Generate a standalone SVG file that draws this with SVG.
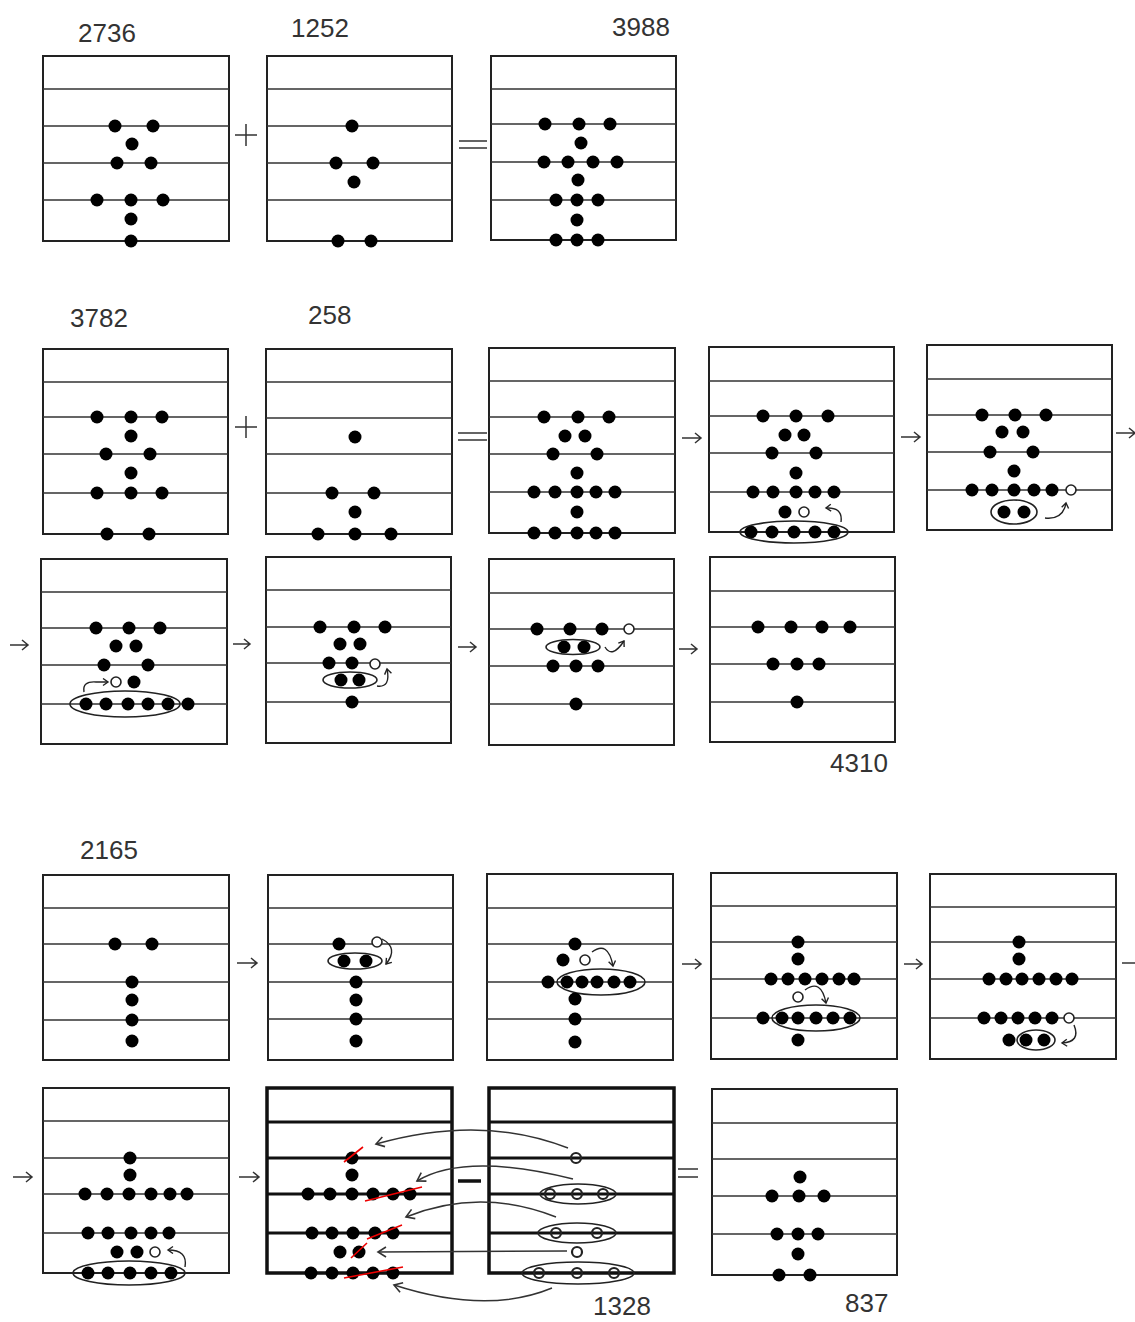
<svg xmlns="http://www.w3.org/2000/svg" width="1135" height="1322" viewBox="0 0 1135 1322">
<style>
.bx{fill:none;stroke:#222;stroke-width:2}
.ln{stroke:#333;stroke-width:1.6}
.tb .bx{stroke:#111;stroke-width:3.5}
.tb .ln{stroke:#111;stroke-width:3}
.d{fill:#000}
.o{fill:#fff;stroke:#222;stroke-width:1.6}
.o2{fill:none;stroke:#222;stroke-width:2.2}
.el{fill:none;stroke:#222;stroke-width:1.6}
.hk{fill:none;stroke:#222;stroke-width:1.4;marker-end:url(#mh)}
.sym{fill:none;stroke:#333;stroke-width:1.5}
.cn{fill:none;stroke:#333;stroke-width:1.5;marker-end:url(#mc)}
.rs{stroke:#e00;stroke-width:1.6}
.num{font-family:"Liberation Sans",Arial,sans-serif;font-size:26px;fill:#333}
</style>
<defs>
<marker id="mh" markerUnits="userSpaceOnUse" markerWidth="10" markerHeight="10" refX="6" refY="4" orient="auto"><path d="M1,0.5 L6,4 L1,7.5" fill="none" stroke="#222" stroke-width="1.4"/></marker>
<marker id="mc" markerUnits="userSpaceOnUse" markerWidth="14" markerHeight="14" refX="9" refY="6" orient="auto"><path d="M1,1 L9,6 L1,11" fill="none" stroke="#333" stroke-width="1.6"/></marker>
</defs>
<rect width="1135" height="1322" fill="#fff"/>

<g id="labels">
<text class="num" x="78" y="42">2736</text>
<text class="num" x="291" y="37">1252</text>
<text class="num" x="612" y="36">3988</text>
<text class="num" x="70" y="327">3782</text>
<text class="num" x="308" y="324">258</text>
<text class="num" x="830" y="772">4310</text>
<text class="num" x="80" y="859">2165</text>
<text class="num" x="593" y="1315">1328</text>
<text class="num" x="845" y="1312">837</text>
</g>

<g id="operators">
<path class="sym" d="M235,135 H257 M246,124 V146"/>
<path class="sym" d="M459,141 H487 M459,148 H487"/>
<path class="sym" d="M235,427 H257 M246,416 V438"/>
<path class="sym" d="M458,433 H487 M458,440 H487"/>
<path d="M458,1181 H481" stroke="#111" stroke-width="3.5"/>
<path class="sym" d="M678,1169 H698 M678,1177 H698"/>
</g>

<g id="r1b1">
<rect class="bx" x="43" y="56" width="186" height="185"/>
<path class="ln" d="M43,89H229M43,126H229M43,163H229M43,200H229"/>
<circle class="d" cx="115" cy="126" r="6.5"/><circle class="d" cx="153" cy="126" r="6.5"/>
<circle class="d" cx="132" cy="144" r="6.5"/>
<circle class="d" cx="117" cy="163" r="6.5"/><circle class="d" cx="151" cy="163" r="6.5"/>
<circle class="d" cx="97" cy="200" r="6.5"/><circle class="d" cx="131" cy="200" r="6.5"/><circle class="d" cx="163" cy="200" r="6.5"/>
<circle class="d" cx="131" cy="219" r="6.5"/><circle class="d" cx="131" cy="241" r="6.5"/>
</g>
<g id="r1b2">
<rect class="bx" x="267" y="56" width="185" height="185"/>
<path class="ln" d="M267,89H452M267,126H452M267,163H452M267,200H452"/>
<circle class="d" cx="352" cy="126" r="6.5"/>
<circle class="d" cx="336" cy="163" r="6.5"/><circle class="d" cx="373" cy="163" r="6.5"/>
<circle class="d" cx="354" cy="182" r="6.5"/>
<circle class="d" cx="338" cy="241" r="6.5"/><circle class="d" cx="371" cy="241" r="6.5"/>
</g>
<g id="r1b3">
<rect class="bx" x="491" y="56" width="185" height="184"/>
<path class="ln" d="M491,89H676M491,124H676M491,162H676M491,200H676"/>
<circle class="d" cx="545" cy="124" r="6.5"/><circle class="d" cx="579" cy="124" r="6.5"/><circle class="d" cx="610" cy="124" r="6.5"/>
<circle class="d" cx="581" cy="143" r="6.5"/>
<circle class="d" cx="544" cy="162" r="6.5"/><circle class="d" cx="568" cy="162" r="6.5"/><circle class="d" cx="593" cy="162" r="6.5"/><circle class="d" cx="617" cy="162" r="6.5"/>
<circle class="d" cx="578" cy="180" r="6.5"/>
<circle class="d" cx="556" cy="200" r="6.5"/><circle class="d" cx="577" cy="200" r="6.5"/><circle class="d" cx="598" cy="200" r="6.5"/>
<circle class="d" cx="577" cy="220" r="6.5"/>
<circle class="d" cx="556" cy="240" r="6.5"/><circle class="d" cx="577" cy="240" r="6.5"/><circle class="d" cx="598" cy="240" r="6.5"/>
</g>

<g id="r2b1">
<rect class="bx" x="43" y="349" width="185" height="185"/>
<path class="ln" d="M43,382H228M43,417H228M43,454H228M43,493H228"/>
<circle class="d" cx="97" cy="417" r="6.5"/><circle class="d" cx="131" cy="417" r="6.5"/><circle class="d" cx="162" cy="417" r="6.5"/>
<circle class="d" cx="131" cy="436" r="6.5"/>
<circle class="d" cx="106" cy="454" r="6.5"/><circle class="d" cx="150" cy="454" r="6.5"/>
<circle class="d" cx="131" cy="473" r="6.5"/>
<circle class="d" cx="97" cy="493" r="6.5"/><circle class="d" cx="131" cy="493" r="6.5"/><circle class="d" cx="162" cy="493" r="6.5"/>
<circle class="d" cx="107" cy="534" r="6.5"/><circle class="d" cx="149" cy="534" r="6.5"/>
</g>
<g id="r2b2">
<rect class="bx" x="266" y="349" width="186" height="185"/>
<path class="ln" d="M266,382H452M266,418H452M266,454H452M266,493H452"/>
<circle class="d" cx="355" cy="437" r="6.5"/>
<circle class="d" cx="332" cy="493" r="6.5"/><circle class="d" cx="374" cy="493" r="6.5"/>
<circle class="d" cx="355" cy="512" r="6.5"/>
<circle class="d" cx="318" cy="534" r="6.5"/><circle class="d" cx="355" cy="534" r="6.5"/><circle class="d" cx="391" cy="534" r="6.5"/>
</g>
<g id="r2b3">
<rect class="bx" x="489" y="348" width="186" height="185"/>
<path class="ln" d="M489,381H675M489,417H675M489,454H675M489,492H675"/>
<circle class="d" cx="544" cy="417" r="6.5"/><circle class="d" cx="578" cy="417" r="6.5"/><circle class="d" cx="609" cy="417" r="6.5"/>
<circle class="d" cx="565" cy="436" r="6.5"/><circle class="d" cx="585" cy="436" r="6.5"/>
<circle class="d" cx="553" cy="454" r="6.5"/><circle class="d" cx="597" cy="454" r="6.5"/>
<circle class="d" cx="577" cy="473" r="6.5"/>
<circle class="d" cx="534" cy="492" r="6.5"/><circle class="d" cx="555" cy="492" r="6.5"/><circle class="d" cx="577" cy="492" r="6.5"/><circle class="d" cx="596" cy="492" r="6.5"/><circle class="d" cx="615" cy="492" r="6.5"/>
<circle class="d" cx="577" cy="512" r="6.5"/>
<circle class="d" cx="534" cy="533" r="6.5"/><circle class="d" cx="555" cy="533" r="6.5"/><circle class="d" cx="577" cy="533" r="6.5"/><circle class="d" cx="596" cy="533" r="6.5"/><circle class="d" cx="615" cy="533" r="6.5"/>
</g>
<g id="r2b4">
<rect class="bx" x="709" y="347" width="185" height="185"/>
<path class="ln" d="M709,381H894M709,416H894M709,453H894M709,492H894"/>
<circle class="d" cx="763" cy="416" r="6.5"/><circle class="d" cx="796" cy="416" r="6.5"/><circle class="d" cx="828" cy="416" r="6.5"/>
<circle class="d" cx="785" cy="435" r="6.5"/><circle class="d" cx="804" cy="435" r="6.5"/>
<circle class="d" cx="772" cy="453" r="6.5"/><circle class="d" cx="816" cy="453" r="6.5"/>
<circle class="d" cx="796" cy="473" r="6.5"/>
<circle class="d" cx="753" cy="492" r="6.5"/><circle class="d" cx="773" cy="492" r="6.5"/><circle class="d" cx="796" cy="492" r="6.5"/><circle class="d" cx="815" cy="492" r="6.5"/><circle class="d" cx="834" cy="492" r="6.5"/>
<circle class="d" cx="785" cy="512" r="6.5"/><circle class="o" cx="804" cy="512" r="5"/>
<circle class="d" cx="751" cy="532" r="6.5"/><circle class="d" cx="772" cy="532" r="6.5"/><circle class="d" cx="794" cy="532" r="6.5"/><circle class="d" cx="815" cy="532" r="6.5"/><circle class="d" cx="834" cy="532" r="6.5"/>
<ellipse class="el" cx="794" cy="532" rx="54" ry="11"/>
<path class="hk" d="M841,522 Q843,507 826,508"/>
</g>
<g id="r2b5">
<rect class="bx" x="927" y="345" width="185" height="185"/>
<path class="ln" d="M927,379H1112M927,415H1112M927,452H1112M927,490H1112"/>
<circle class="d" cx="982" cy="415" r="6.5"/><circle class="d" cx="1015" cy="415" r="6.5"/><circle class="d" cx="1046" cy="415" r="6.5"/>
<circle class="d" cx="1002" cy="432" r="6.5"/><circle class="d" cx="1023" cy="432" r="6.5"/>
<circle class="d" cx="990" cy="452" r="6.5"/><circle class="d" cx="1033" cy="452" r="6.5"/>
<circle class="d" cx="1014" cy="471" r="6.5"/>
<circle class="d" cx="972" cy="490" r="6.5"/><circle class="d" cx="992" cy="490" r="6.5"/><circle class="d" cx="1014" cy="490" r="6.5"/><circle class="d" cx="1034" cy="490" r="6.5"/><circle class="d" cx="1052" cy="490" r="6.5"/>
<circle class="o" cx="1071" cy="490" r="5"/>
<circle class="d" cx="1004" cy="512" r="6.5"/><circle class="d" cx="1024" cy="512" r="6.5"/>
<ellipse class="el" cx="1014" cy="512" rx="23" ry="12"/>
<path class="hk" d="M1045,518 Q1063,520 1066,503"/>
</g>

<g id="r3b1">
<rect class="bx" x="41" y="559" width="186" height="185"/>
<path class="ln" d="M41,592H227M41,628H227M41,665H227M41,704H227"/>
<circle class="d" cx="96" cy="628" r="6.5"/><circle class="d" cx="129" cy="628" r="6.5"/><circle class="d" cx="160" cy="628" r="6.5"/>
<circle class="d" cx="116" cy="646" r="6.5"/><circle class="d" cx="136" cy="646" r="6.5"/>
<circle class="d" cx="104" cy="665" r="6.5"/><circle class="d" cx="148" cy="665" r="6.5"/>
<circle class="o" cx="116" cy="682" r="5"/><circle class="d" cx="134" cy="682" r="6.5"/>
<circle class="d" cx="86" cy="704" r="6.5"/><circle class="d" cx="106" cy="704" r="6.5"/><circle class="d" cx="128" cy="704" r="6.5"/><circle class="d" cx="148" cy="704" r="6.5"/><circle class="d" cx="168" cy="704" r="6.5"/><circle class="d" cx="188" cy="704" r="6.5"/>
<ellipse class="el" cx="125" cy="704" rx="55" ry="13"/>
<path class="hk" d="M84,692 Q82,681 96,682 L108,682"/>
</g>
<g id="r3b2">
<rect class="bx" x="266" y="557" width="185" height="186"/>
<path class="ln" d="M266,590H451M266,627H451M266,663H451M266,702H451"/>
<circle class="d" cx="320" cy="627" r="6.5"/><circle class="d" cx="354" cy="627" r="6.5"/><circle class="d" cx="385" cy="627" r="6.5"/>
<circle class="d" cx="340" cy="644" r="6.5"/><circle class="d" cx="360" cy="644" r="6.5"/>
<circle class="d" cx="329" cy="663" r="6.5"/><circle class="d" cx="352" cy="663" r="6.5"/><circle class="o" cx="375" cy="664" r="5"/>
<circle class="d" cx="341" cy="680" r="6.5"/><circle class="d" cx="359" cy="680" r="6.5"/>
<ellipse class="el" cx="350" cy="680" rx="27" ry="8"/>
<circle class="d" cx="352" cy="702" r="6.5"/>
<path class="hk" d="M377,686 Q391,688 387,669"/>
</g>
<g id="r3b3">
<rect class="bx" x="489" y="559" width="185" height="186"/>
<path class="ln" d="M489,593H674M489,629H674M489,666H674M489,704H674"/>
<circle class="d" cx="537" cy="629" r="6.5"/><circle class="d" cx="570" cy="629" r="6.5"/><circle class="d" cx="602" cy="629" r="6.5"/><circle class="o" cx="629" cy="629" r="5"/>
<circle class="d" cx="564" cy="647" r="6.5"/><circle class="d" cx="584" cy="647" r="6.5"/>
<ellipse class="el" cx="573" cy="647" rx="27" ry="7.5"/>
<circle class="d" cx="553" cy="666" r="6.5"/><circle class="d" cx="576" cy="666" r="6.5"/><circle class="d" cx="598" cy="666" r="6.5"/>
<circle class="d" cx="576" cy="704" r="6.5"/>
<path class="hk" d="M605,647 Q612,659 624,641"/>
</g>
<g id="r3b4">
<rect class="bx" x="710" y="557" width="185" height="185"/>
<path class="ln" d="M710,591H895M710,627H895M710,664H895M710,702H895"/>
<circle class="d" cx="758" cy="627" r="6.5"/><circle class="d" cx="791" cy="627" r="6.5"/><circle class="d" cx="822" cy="627" r="6.5"/><circle class="d" cx="850" cy="627" r="6.5"/>
<circle class="d" cx="773" cy="664" r="6.5"/><circle class="d" cx="797" cy="664" r="6.5"/><circle class="d" cx="819" cy="664" r="6.5"/>
<circle class="d" cx="797" cy="702" r="6.5"/>
</g>

<g id="r4b1">
<rect class="bx" x="43" y="875" width="186" height="185"/>
<path class="ln" d="M43,908H229M43,944H229M43,982H229M43,1020H229"/>
<circle class="d" cx="115" cy="944" r="6.5"/><circle class="d" cx="152" cy="944" r="6.5"/>
<circle class="d" cx="132" cy="982" r="6.5"/><circle class="d" cx="132" cy="1000" r="6.5"/><circle class="d" cx="132" cy="1020" r="6.5"/><circle class="d" cx="132" cy="1041" r="6.5"/>
</g>
<g id="r4b2">
<rect class="bx" x="268" y="875" width="185" height="185"/>
<path class="ln" d="M268,908H453M268,944H453M268,982H453M268,1019H453"/>
<circle class="d" cx="339" cy="944" r="6.5"/><circle class="o" cx="377" cy="942" r="5"/>
<circle class="d" cx="344" cy="961" r="6.5"/><circle class="d" cx="366" cy="961" r="6.5"/>
<ellipse class="el" cx="355" cy="961" rx="27" ry="8"/>
<circle class="d" cx="356" cy="982" r="6.5"/><circle class="d" cx="356" cy="1000" r="6.5"/><circle class="d" cx="356" cy="1019" r="6.5"/><circle class="d" cx="356" cy="1041" r="6.5"/>
<path class="hk" d="M382,939 Q399,948 386,964"/>
</g>
<g id="r4b3">
<rect class="bx" x="487" y="874" width="186" height="186"/>
<path class="ln" d="M487,908H673M487,944H673M487,982H673M487,1019H673"/>
<circle class="d" cx="575" cy="944" r="6.5"/>
<circle class="d" cx="563" cy="960" r="6.5"/><circle class="o" cx="585" cy="960" r="5"/>
<circle class="d" cx="548" cy="982" r="6.5"/><circle class="d" cx="567" cy="982" r="6.5"/><circle class="d" cx="582" cy="982" r="6.5"/><circle class="d" cx="597" cy="982" r="6.5"/><circle class="d" cx="614" cy="982" r="6.5"/><circle class="d" cx="630" cy="982" r="6.5"/>
<ellipse class="el" cx="601" cy="982" rx="44" ry="13"/>
<circle class="d" cx="575" cy="999" r="6.5"/><circle class="d" cx="575" cy="1019" r="6.5"/><circle class="d" cx="575" cy="1042" r="6.5"/>
<path class="hk" d="M592,952 Q608,940 613,966"/>
</g>
<g id="r4b4">
<rect class="bx" x="711" y="873" width="186" height="186"/>
<path class="ln" d="M711,906H897M711,942H897M711,979H897M711,1018H897"/>
<circle class="d" cx="798" cy="942" r="6.5"/><circle class="d" cx="798" cy="959" r="6.5"/>
<circle class="d" cx="771" cy="979" r="6.5"/><circle class="d" cx="788" cy="979" r="6.5"/><circle class="d" cx="805" cy="979" r="6.5"/><circle class="d" cx="822" cy="979" r="6.5"/><circle class="d" cx="839" cy="979" r="6.5"/><circle class="d" cx="854" cy="979" r="6.5"/>
<circle class="o" cx="798" cy="997" r="5"/>
<circle class="d" cx="763" cy="1018" r="6.5"/><circle class="d" cx="782" cy="1018" r="6.5"/><circle class="d" cx="798" cy="1018" r="6.5"/><circle class="d" cx="816" cy="1018" r="6.5"/><circle class="d" cx="833" cy="1018" r="6.5"/><circle class="d" cx="850" cy="1018" r="6.5"/>
<ellipse class="el" cx="816" cy="1018" rx="44" ry="13"/>
<circle class="d" cx="798" cy="1040" r="6.5"/>
<path class="hk" d="M805,990 Q821,978 826,1003"/>
</g>
<g id="r4b5">
<rect class="bx" x="930" y="874" width="186" height="185"/>
<path class="ln" d="M930,907H1116M930,942H1116M930,979H1116M930,1018H1116"/>
<circle class="d" cx="1019" cy="942" r="6.5"/><circle class="d" cx="1019" cy="959" r="6.5"/>
<circle class="d" cx="989" cy="979" r="6.5"/><circle class="d" cx="1006" cy="979" r="6.5"/><circle class="d" cx="1022" cy="979" r="6.5"/><circle class="d" cx="1039" cy="979" r="6.5"/><circle class="d" cx="1056" cy="979" r="6.5"/><circle class="d" cx="1072" cy="979" r="6.5"/>
<circle class="d" cx="984" cy="1018" r="6.5"/><circle class="d" cx="1001" cy="1018" r="6.5"/><circle class="d" cx="1018" cy="1018" r="6.5"/><circle class="d" cx="1035" cy="1018" r="6.5"/><circle class="d" cx="1052" cy="1018" r="6.5"/><circle class="o" cx="1069" cy="1018" r="5"/>
<circle class="d" cx="1009" cy="1040" r="6.5"/><circle class="d" cx="1026" cy="1040" r="6.5"/><circle class="d" cx="1044" cy="1040" r="6.5"/>
<ellipse class="el" cx="1036" cy="1040" rx="19" ry="10"/>
<path class="hk" d="M1074,1025 Q1081,1042 1062,1043"/>
</g>

<g id="r5b1">
<rect class="bx" x="43" y="1088" width="186" height="185"/>
<path class="ln" d="M43,1121H229M43,1158H229M43,1194H229M43,1233H229"/>
<circle class="d" cx="130" cy="1158" r="6.5"/><circle class="d" cx="130" cy="1175" r="6.5"/>
<circle class="d" cx="85" cy="1194" r="6.5"/><circle class="d" cx="107" cy="1194" r="6.5"/><circle class="d" cx="129" cy="1194" r="6.5"/><circle class="d" cx="151" cy="1194" r="6.5"/><circle class="d" cx="170" cy="1194" r="6.5"/><circle class="d" cx="187" cy="1194" r="6.5"/>
<circle class="d" cx="88" cy="1233" r="6.5"/><circle class="d" cx="108" cy="1233" r="6.5"/><circle class="d" cx="131" cy="1233" r="6.5"/><circle class="d" cx="151" cy="1233" r="6.5"/><circle class="d" cx="169" cy="1233" r="6.5"/>
<circle class="d" cx="117" cy="1252" r="6.5"/><circle class="d" cx="137" cy="1252" r="6.5"/><circle class="o" cx="155" cy="1252" r="5"/>
<circle class="d" cx="88" cy="1273" r="6.5"/><circle class="d" cx="108" cy="1273" r="6.5"/><circle class="d" cx="130" cy="1273" r="6.5"/><circle class="d" cx="151" cy="1273" r="6.5"/><circle class="d" cx="171" cy="1273" r="6.5"/>
<ellipse class="el" cx="129" cy="1273" rx="56" ry="12"/>
<path class="hk" d="M185,1267 Q188,1250 168,1250"/>
</g>
<g id="r5b2" class="tb">
<rect class="bx" x="267" y="1088" width="185" height="185"/>
<path class="ln" d="M267,1122H452M267,1158H452M267,1194H452M267,1233H452"/>
<circle class="d" cx="352" cy="1158" r="6.5"/><circle class="d" cx="352" cy="1175" r="6.5"/>
<circle class="d" cx="308" cy="1194" r="6.5"/><circle class="d" cx="330" cy="1194" r="6.5"/><circle class="d" cx="352" cy="1194" r="6.5"/><circle class="d" cx="373" cy="1194" r="6.5"/><circle class="d" cx="393" cy="1194" r="6.5"/><circle class="d" cx="410" cy="1194" r="6.5"/>
<circle class="d" cx="312" cy="1233" r="6.5"/><circle class="d" cx="332" cy="1233" r="6.5"/><circle class="d" cx="353" cy="1233" r="6.5"/><circle class="d" cx="375" cy="1233" r="6.5"/><circle class="d" cx="393" cy="1233" r="6.5"/>
<circle class="d" cx="340" cy="1252" r="6.5"/><circle class="d" cx="359" cy="1252" r="6.5"/>
<circle class="d" cx="311" cy="1273" r="6.5"/><circle class="d" cx="332" cy="1273" r="6.5"/><circle class="d" cx="353" cy="1273" r="6.5"/><circle class="d" cx="373" cy="1273" r="6.5"/><circle class="d" cx="393" cy="1273" r="6.5"/>
<path class="rs" d="M344,1162 L363,1147 M365,1201 L422,1187 M367,1239 L402,1225 M351,1258 L367,1243 M344,1278 L403,1267"/>
</g>
<g id="r5b3" class="tb">
<rect class="bx" x="489" y="1088" width="185" height="185"/>
<path class="ln" d="M489,1122H674M489,1158H674M489,1194H674M489,1233H674"/>
<circle class="o2" cx="576" cy="1158" r="5"/>
<circle class="o2" cx="550" cy="1194" r="5"/><circle class="o2" cx="577" cy="1194" r="5"/><circle class="o2" cx="603" cy="1194" r="5"/>
<ellipse class="el" cx="578" cy="1194" rx="38" ry="10"/>
<circle class="o2" cx="556" cy="1233" r="5"/><circle class="o2" cx="597" cy="1233" r="5"/>
<ellipse class="el" cx="577" cy="1233" rx="39" ry="10"/>
<circle class="o2" cx="577" cy="1252" r="5"/>
<circle class="o2" cx="539" cy="1273" r="5"/><circle class="o2" cx="577" cy="1273" r="5"/><circle class="o2" cx="614" cy="1273" r="5"/>
<ellipse class="el" cx="578" cy="1273" rx="56" ry="11"/>
</g>
<g id="r5b4">
<rect class="bx" x="712" y="1089" width="185" height="186"/>
<path class="ln" d="M712,1123H897M712,1159H897M712,1196H897M712,1234H897"/>
<circle class="d" cx="800" cy="1177" r="6.5"/>
<circle class="d" cx="772" cy="1196" r="6.5"/><circle class="d" cx="799" cy="1196" r="6.5"/><circle class="d" cx="824" cy="1196" r="6.5"/>
<circle class="d" cx="777" cy="1234" r="6.5"/><circle class="d" cx="798" cy="1234" r="6.5"/><circle class="d" cx="818" cy="1234" r="6.5"/>
<circle class="d" cx="798" cy="1254" r="6.5"/>
<circle class="d" cx="779" cy="1275" r="6.5"/><circle class="d" cx="810" cy="1275" r="6.5"/>
</g>

<g id="connectors">
<path class="sym" d="M682,438H701M695,433L701,438L695,443"/>
<path class="sym" d="M901,437H920M914,432L920,437L914,442"/>
<path class="sym" d="M1116,433H1135M1129,428L1135,433L1129,438"/>
<path class="sym" d="M10,645H28M22,640L28,645L22,650"/>
<path class="sym" d="M233,644H250M244,639L250,644L244,649"/>
<path class="sym" d="M458,647H476M470,642L476,647L470,652"/>
<path class="sym" d="M679,649H697M691,644L697,649L691,654"/>
<path class="sym" d="M237,963H257M251,958L257,963L251,968"/>
<path class="sym" d="M682,964H701M695,959L701,964L695,969"/>
<path class="sym" d="M904,964H922M916,959L922,964L916,969"/>
<path class="sym" d="M1122,963H1135"/>
<path class="sym" d="M13,1177H32M26,1172L32,1177L26,1182"/>
<path class="sym" d="M239,1177H259M253,1172L259,1177L253,1182"/>
<path class="cn" d="M568,1148 Q482,1114 376,1144"/>
<path class="cn" d="M573,1179 Q465,1152 417,1181"/>
<path class="cn" d="M556,1217 Q480,1187 406,1217"/>
<path class="cn" d="M567,1251 L378,1252"/>
<path class="cn" d="M552,1288 Q487,1315 394,1285"/>
</g>
</svg>
